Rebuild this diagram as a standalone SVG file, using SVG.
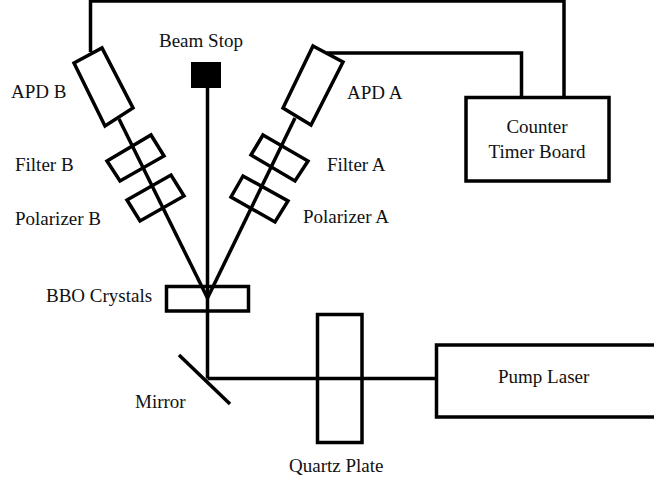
<svg xmlns="http://www.w3.org/2000/svg" width="654" height="479" viewBox="0 0 654 479">
<style>
text{font-family:"Liberation Serif","Times New Roman",serif;font-size:19px;fill:#111}
.b{fill:none;stroke:#000;stroke-width:3.5;stroke-linejoin:miter}
.c{fill:none;stroke:#000;stroke-width:3.5}
.t{text-anchor:middle}
</style>
<rect width="654" height="479" fill="#fff"/>
<g id="connectors">
<path class="c" d="M90.500 52V1H564V97"/>
<path class="c" d="M327 53H521.500V97"/>
<path class="c" d="M119 119L207.500 298"/>
<path class="c" d="M295 118L207.500 298"/>
<path class="c" d="M207.500 88V378.500"/>
<path class="c" d="M207.500 378.500H436"/>
</g>
<g id="apd-b"><path class="b" d="M74 63L102 48L133 108L105 126Z"/><text x="11" y="98">APD B</text></g>
<g id="apd-a"><path class="b" d="M313 46L343 62L311 125L283 108Z"/><text x="347" y="99">APD A</text></g>
<g id="filter-b"><path class="b" d="M107 161L151 135L164 156L120 181Z"/><text x="15" y="171">Filter B</text></g>
<g id="filter-a"><path class="b" d="M263 135L308 161L295 181L251 155Z"/><text x="327" y="171">Filter A</text></g>
<g id="polarizer-b"><path class="b" d="M127 200L171 175L184 196L140 221Z"/><text x="15" y="225">Polarizer B</text></g>
<g id="polarizer-a"><path class="b" d="M243 176L288 201L275 222L231 197Z"/><text x="303" y="223">Polarizer A</text></g>
<g id="beam-stop"><rect x="191" y="62" width="30" height="26" fill="#000"/><text x="159" y="47">Beam Stop</text></g>
<g id="bbo"><rect class="b" x="166.500" y="286.500" width="82" height="24.500"/><text x="46" y="302">BBO Crystals</text></g>
<g id="mirror"><path class="c" d="M179 355L230 404"/><text x="135" y="408">Mirror</text></g>
<g id="quartz"><rect class="b" x="317.500" y="314.500" width="44.500" height="128"/><text x="289" y="472">Quartz Plate</text></g>
<g id="laser"><path class="b" d="M656 345H436.500V417H656"/><text x="498" y="383">Pump Laser</text></g>
<g id="counter"><rect class="b" x="466" y="97.500" width="143" height="83.500"/><text class="t" x="537" y="133">Counter</text><text class="t" x="537" y="158">Timer Board</text></g>
</svg>
